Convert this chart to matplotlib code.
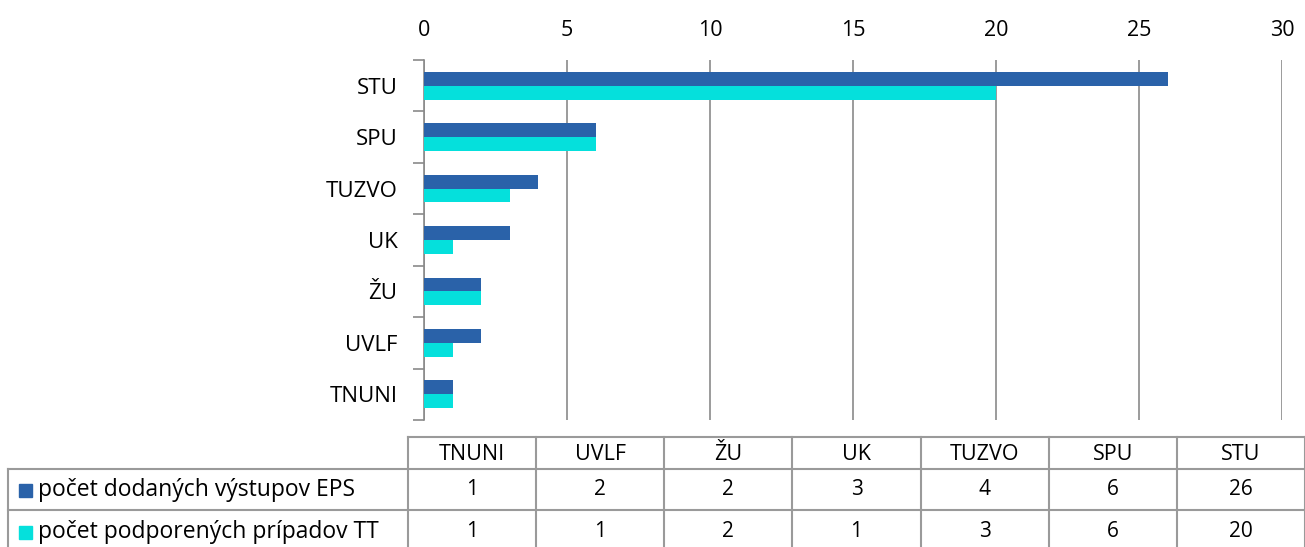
import matplotlib
matplotlib.use("Agg")
import matplotlib.pyplot as plt
import numpy as np

# data
categories = ["TNUNI", "UVLF", "ŽU", "UK", "TUZVO", "SPU", "STU"]
eps_outputs = [1, 2, 2, 3, 4, 6, 26]
tt_cases = [1, 1, 2, 1, 3, 6, 20]
series_names = ["počet dodaných výstupov EPS", "počet podporených prípadov TT"]
colors = ["#2A62A9", "#05E0DC"]

plt.rcParams["font.family"] = ["Open Sans", "DejaVu Sans"]
W, H = 1305, 547
fig = plt.figure(figsize=(W / 100, H / 100), dpi=100)

def fx(px):
    return px / W

def fy(py):
    return 1 - py / H

# bar chart
ax = fig.add_axes([fx(424), fy(420), fx(1282) - fx(424), fy(60) - fy(420)])
y = np.arange(len(categories))
bh = 0.27
ax.barh(y + bh / 2, eps_outputs, height=bh, color=colors[0], zorder=3)
ax.barh(y - bh / 2, tt_cases, height=bh, color=colors[1], zorder=3)
ax.set_xlim(0, 30)
ax.set_ylim(-0.5, len(categories) - 0.5)
ax.set_xticks(range(0, 31, 5))
ax.xaxis.tick_top()
ax.tick_params(axis="x", length=0, pad=14, labelsize=15.5)
ax.grid(axis="x", color="#8a8a8a", linewidth=1.2, zorder=0)
ax.set_yticks(y)
ax.set_yticklabels(categories, fontsize=16)
ax.set_yticks(np.arange(-0.5, len(categories)), minor=True)
ax.tick_params(axis="y", which="major", length=0, pad=19)
ax.tick_params(axis="y", which="minor", length=8, color="#8a8a8a", width=1.2)
for side in ["top", "right", "bottom"]:
    ax.spines[side].set_visible(False)
ax.spines["left"].set_color("#8a8a8a")
ax.spines["left"].set_linewidth(1.2)

# data table
tab = fig.add_axes([0, 0, 1, 1])
tab.set_xlim(0, W)
tab.set_ylim(H, 0)
tab.axis("off")
lc = "#9a9a9a"
col_x = np.linspace(408, 1305, len(categories) + 1)
row_y = [437, 469, 510, 560]
# horizontal lines
tab.plot([408, W], [row_y[0]] * 2, color=lc, lw=1.5)
for ry in row_y[1:3]:
    tab.plot([8, W], [ry] * 2, color=lc, lw=1.5)
# vertical lines
tab.plot([8, 8], [row_y[1], H], color=lc, lw=1.5)
for cx in col_x:
    tab.plot([cx, cx], [row_y[0], H], color=lc, lw=1.5)
for i, cat in enumerate(categories):
    cx = (col_x[i] + col_x[i + 1]) / 2
    tab.text(cx, (row_y[0] + row_y[1]) / 2 + 1, cat, ha="center", va="center", fontsize=15.5)
    tab.text(cx, (row_y[1] + row_y[2]) / 2, str(eps_outputs[i]), ha="center", va="center", fontsize=15)
    tab.text(cx, (row_y[2] + H) / 2 + 3, str(tt_cases[i]), ha="center", va="center", fontsize=15)
row_mid = [(row_y[1] + row_y[2]) / 2, (row_y[2] + H) / 2 + 3]
for name, c, ry in zip(series_names, colors, row_mid):
    tab.add_patch(plt.Rectangle((19, ry - 6), 13, 13, color=c))
    tab.text(38, ry, name, ha="left", va="center", fontsize=16.5)

fig.savefig("out.png", dpi=100)
